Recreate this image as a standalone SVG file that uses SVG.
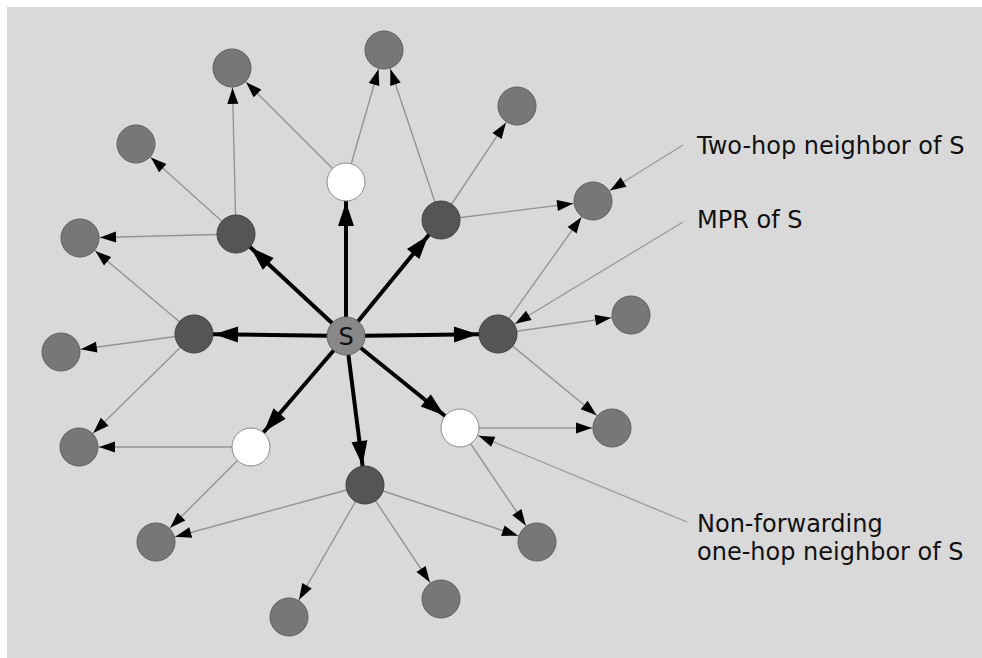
<svg xmlns="http://www.w3.org/2000/svg" width="982" height="658" viewBox="0 0 982 658">
<style>
.thin{stroke:#959595;stroke-width:1.4;fill:none;marker-end:url(#ah)}
.thick{stroke:#000;stroke-width:4;fill:none;marker-end:url(#ahb)}
.ptr{stroke:#9a9a9a;stroke-width:1.3;fill:none;marker-end:url(#ah)}
.two{fill:#777;stroke:#5e5e5e;stroke-width:1}
.mpr{fill:#555;stroke:#3f3f3f;stroke-width:1}
.non{fill:#fff;stroke:#8a8a8a;stroke-width:1}
.src{fill:#888;stroke:#666;stroke-width:1}
.lbl{font-family:"DejaVu Sans",Verdana,sans-serif;font-size:24px;fill:#111}
</style>
<defs>
<marker id="ah" markerUnits="userSpaceOnUse" orient="auto" markerWidth="16" markerHeight="11" refX="36" refY="5.5" overflow="visible">
<path d="M0,0 L16,5.5 L0,11 z" fill="#000"/>
</marker>
<marker id="ahb" markerUnits="userSpaceOnUse" orient="auto" markerWidth="24" markerHeight="16" refX="44" refY="8" overflow="visible">
<path d="M0,0 L24,8 L0,16 z" fill="#000"/>
</marker>
</defs>
<rect x="0" y="0" width="982" height="658" fill="#fff"/>
<rect x="7" y="7" width="975" height="651" fill="#d9d9d9"/>
<g id="connectors">
<line class="thin" x1="236" y1="234" x2="232" y2="68"/>
<line class="thin" x1="236" y1="234" x2="136" y2="144"/>
<line class="thin" x1="236" y1="234" x2="80" y2="238"/>
<line class="thin" x1="346" y1="182" x2="232" y2="68"/>
<line class="thin" x1="346" y1="182" x2="384" y2="50"/>
<line class="thin" x1="441" y1="220" x2="384" y2="50"/>
<line class="thin" x1="441" y1="220" x2="517" y2="106"/>
<line class="thin" x1="441" y1="220" x2="593" y2="201"/>
<line class="thin" x1="194" y1="334" x2="80" y2="238"/>
<line class="thin" x1="194" y1="334" x2="61" y2="352"/>
<line class="thin" x1="194" y1="334" x2="79" y2="447"/>
<line class="thin" x1="498" y1="334" x2="593" y2="201"/>
<line class="thin" x1="498" y1="334" x2="631" y2="315"/>
<line class="thin" x1="498" y1="334" x2="612" y2="428"/>
<line class="thin" x1="460" y1="428" x2="612" y2="428"/>
<line class="thin" x1="460" y1="428" x2="537" y2="542"/>
<line class="thin" x1="251" y1="447" x2="79" y2="447"/>
<line class="thin" x1="251" y1="447" x2="156" y2="542"/>
<line class="thin" x1="365" y1="485" x2="156" y2="542"/>
<line class="thin" x1="365" y1="485" x2="537" y2="542"/>
<line class="thin" x1="365" y1="485" x2="289" y2="617"/>
<line class="thin" x1="365" y1="485" x2="441" y2="599"/>
<line class="thick" x1="346" y1="336" x2="346" y2="182"/>
<line class="thick" x1="346" y1="336" x2="236" y2="234"/>
<line class="thick" x1="346" y1="336" x2="441" y2="220"/>
<line class="thick" x1="346" y1="336" x2="194" y2="334"/>
<line class="thick" x1="346" y1="336" x2="498" y2="334"/>
<line class="thick" x1="346" y1="336" x2="251" y2="447"/>
<line class="thick" x1="346" y1="336" x2="365" y2="485"/>
<line class="thick" x1="346" y1="336" x2="460" y2="428"/>
<line class="ptr" x1="683" y1="145" x2="593" y2="201"/>
<line class="ptr" x1="683" y1="222" x2="498" y2="334"/>
<line class="ptr" x1="687" y1="522" x2="460" y2="428"/>
</g>
<g id="T1"><circle class="two" cx="232" cy="68" r="19"/></g>
<g id="T2"><circle class="two" cx="384" cy="50" r="19"/></g>
<g id="T3"><circle class="two" cx="517" cy="106" r="19"/></g>
<g id="T4"><circle class="two" cx="136" cy="144" r="19"/></g>
<g id="T5"><circle class="two" cx="593" cy="201" r="19"/></g>
<g id="T6"><circle class="two" cx="80" cy="238" r="19"/></g>
<g id="T7"><circle class="two" cx="631" cy="315" r="19"/></g>
<g id="T8"><circle class="two" cx="61" cy="352" r="19"/></g>
<g id="T9"><circle class="two" cx="79" cy="447" r="19"/></g>
<g id="T10"><circle class="two" cx="612" cy="428" r="19"/></g>
<g id="T11"><circle class="two" cx="156" cy="542" r="19"/></g>
<g id="T12"><circle class="two" cx="537" cy="542" r="19"/></g>
<g id="T13"><circle class="two" cx="289" cy="617" r="19"/></g>
<g id="T14"><circle class="two" cx="441" cy="599" r="19"/></g>
<g id="M1"><circle class="mpr" cx="236" cy="234" r="19"/></g>
<g id="M2"><circle class="mpr" cx="441" cy="220" r="19"/></g>
<g id="M3"><circle class="mpr" cx="194" cy="334" r="19"/></g>
<g id="M4"><circle class="mpr" cx="498" cy="334" r="19"/></g>
<g id="M5"><circle class="mpr" cx="365" cy="485" r="19"/></g>
<g id="W1"><circle class="non" cx="346" cy="182" r="19"/></g>
<g id="W2"><circle class="non" cx="251" cy="447" r="19"/></g>
<g id="W3"><circle class="non" cx="460" cy="428" r="19"/></g>
<g id="S"><circle class="src" cx="346" cy="336" r="19"/><text class="lbl" x="346" y="345" text-anchor="middle">S</text></g>
<g id="label-two-hop"><text class="lbl" x="697" y="154">Two-hop neighbor of S</text></g>
<g id="label-mpr"><text class="lbl" x="697" y="228">MPR of S</text></g>
<g id="label-non"><text class="lbl" x="697" y="532">Non-forwarding</text><text class="lbl" x="697" y="560">one-hop neighbor of S</text></g>
</svg>
